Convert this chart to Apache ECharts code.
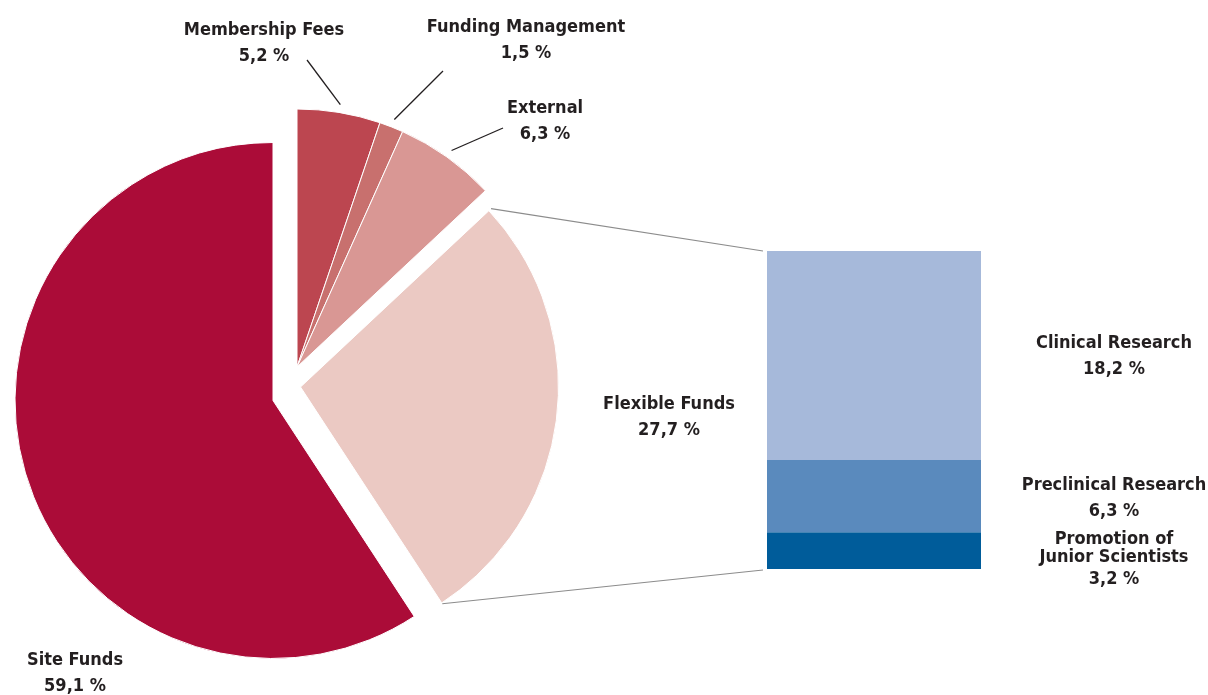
<!DOCTYPE html>
<html>
<head>
<meta charset="utf-8">
<script src="https://cdn.jsdelivr.net/npm/echarts@6/dist/echarts.min.js"></script>
<style>
    html, body { margin: 0; padding: 0; background: #fff; }
    #main { width: 1208px; height: 695px; }
</style>
</head>
<body>
<div id="main"></div>
<script>
    // pie: shares of the budget (clockwise from 12 o'clock)
    const pieNames = ['Membership Fees', 'Funding Management', 'External', 'Flexible Funds', 'Site Funds'];
    const pieValues = [5.2, 1.5, 6.3, 27.7, 59.1];

    // bar: breakdown of the Flexible Funds (bottom to top)
    const barNames = ['Promotion of\nJunior Scientists', 'Preclinical Research', 'Clinical Research'];
    const barValues = [3.2, 6.3, 18.2];

    // styles / layout
    const pieColors = ['#bc4650', '#c8706e', '#d99794', '#ebc9c3', '#ab0c38'];
    const barColors = ['#005c9a', '#5a8abd', '#a6b9da'];
    const R = 258;
    // exploded pieces of the pie: each group gets its own centre
    const groups = [
        {items: [0, 1, 2], center: [297, 367]},
        {items: [3], center: [300.5, 387]},
        {items: [4], center: [273, 400.5]}
    ];
    const grid = {left: 767, top: 251, width: 214, height: 318};
    const pieLabelPos = [[264, 43], [526, 40], [545, 121.5], [669, 417.5], [75, 673.5]];
    const leaderEnds = [[307, 60], [443, 71], [503, 128], null, null];
    const barLabelOffset = [11, 2.5, 1];

    const FONT = '"DejaVu Sans Condensed", "Liberation Sans Narrow", Roboto, sans-serif';
    const FS = 18;
    const TEXT = '#231f20';

    function fmt(v) {
        return v.toFixed(1).replace('.', ',') + ' %';
    }

    let myChart = echarts.init(document.getElementById('main'));

    const total = pieValues.reduce((a, b) => a + b, 0);
    // angle (deg, clockwise from top) where slice i starts
    function startAng(i) {
        let s = 0;
        for (let k = 0; k < i; k++) s += pieValues[k];
        return s / total * 360;
    }
    function pt(c, ang, r) {
        let a = ang * Math.PI / 180;
        return [c[0] + r * Math.sin(a), c[1] - r * Math.cos(a)];
    }
    function groupOf(i) {
        return groups.find(g => g.items.indexOf(i) >= 0);
    }

    const pieSeries = groups.map(g => ({
        type: 'pie',
        center: g.center,
        radius: [0, R],
        startAngle: 90,
        clockwise: true,
        silent: true,
        animation: false,
        label: {show: false},
        labelLine: {show: false},
        emphasis: {disabled: true},
        data: pieNames.map((n, i) => ({
            name: n,
            value: pieValues[i],
            itemStyle: g.items.indexOf(i) >= 0
                ? {color: pieColors[i], borderColor: '#fff', borderWidth: 1}
                : {color: 'rgba(0,0,0,0)', borderWidth: 0}
        }))
    }));

    const barSeries = barNames.map((n, i) => {
        let lines = n.split('\n');
        let lh = lines.length > 1 ? 18 : 26;
        return {
            type: 'bar',
            name: n,
            stack: 'flex',
            data: [barValues[i]],
            barWidth: '100%',
            silent: true,
            animation: false,
            itemStyle: {color: barColors[i]},
            label: {
                show: true,
                position: 'right',
                distance: 133,
                align: 'center',
                verticalAlign: 'middle',
                offset: [0, barLabelOffset[i]],
                fontFamily: FONT,
                fontWeight: 'bold',
                fontSize: FS,
                color: TEXT,
                formatter: () => lines.map(s => '{a|' + s + '}').join('\n') + '\n{b|' + fmt(barValues[i]) + '}',
                rich: {
                    a: {fontFamily: FONT, fontWeight: 'bold', fontSize: FS, color: TEXT, lineHeight: lh, align: 'center'},
                    b: {fontFamily: FONT, fontWeight: 'bold', fontSize: FS, color: TEXT, lineHeight: lines.length > 1 ? 27 : 26, align: 'center'}
                }
            }
        };
    });

    // labels, leader lines and connectors
    const graphics = [];
    pieNames.forEach((n, i) => {
        graphics.push({
            type: 'text',
            silent: true,
            style: {
                text: n + '\n' + fmt(pieValues[i]),
                x: pieLabelPos[i][0],
                y: pieLabelPos[i][1],
                align: 'center',
                verticalAlign: 'middle',
                fontFamily: FONT,
                fontWeight: 'bold',
                fontSize: FS,
                lineHeight: 26,
                fill: TEXT
            }
        });
        if (leaderEnds[i]) {
            let mid = startAng(i) + pieValues[i] / total * 180;
            let p = pt(groupOf(i).center, mid, R + 8);
            graphics.push({
                type: 'line',
                silent: true,
                shape: {x1: p[0], y1: p[1], x2: leaderEnds[i][0], y2: leaderEnds[i][1]},
                style: {stroke: TEXT, lineWidth: 1.3}
            });
        }
    });
    const flexIdx = pieNames.indexOf('Flexible Funds');
    const fc = groupOf(flexIdx).center;
    const a0 = pt(fc, startAng(flexIdx), R + 3);
    const a1 = pt(fc, startAng(flexIdx + 1), R + 1);
    graphics.push({
        type: 'line', silent: true,
        shape: {x1: a0[0], y1: a0[1], x2: grid.left - 4, y2: grid.top},
        style: {stroke: '#8c8c8c', lineWidth: 1.2}
    });
    graphics.push({
        type: 'line', silent: true,
        shape: {x1: a1[0], y1: a1[1], x2: grid.left - 4, y2: grid.top + grid.height + 1},
        style: {stroke: '#8c8c8c', lineWidth: 1.2}
    });

    let option = {
        animation: false,
        grid: grid,
        xAxis: {
            type: 'category',
            data: ['Flexible Funds'],
            show: false
        },
        yAxis: {
            type: 'value',
            min: 0,
            max: barValues.reduce((a, b) => a + b, 0),
            show: false
        },
        graphic: graphics,
        series: pieSeries.concat(barSeries)
    };
    myChart.setOption(option);
</script>
</body>
</html>
